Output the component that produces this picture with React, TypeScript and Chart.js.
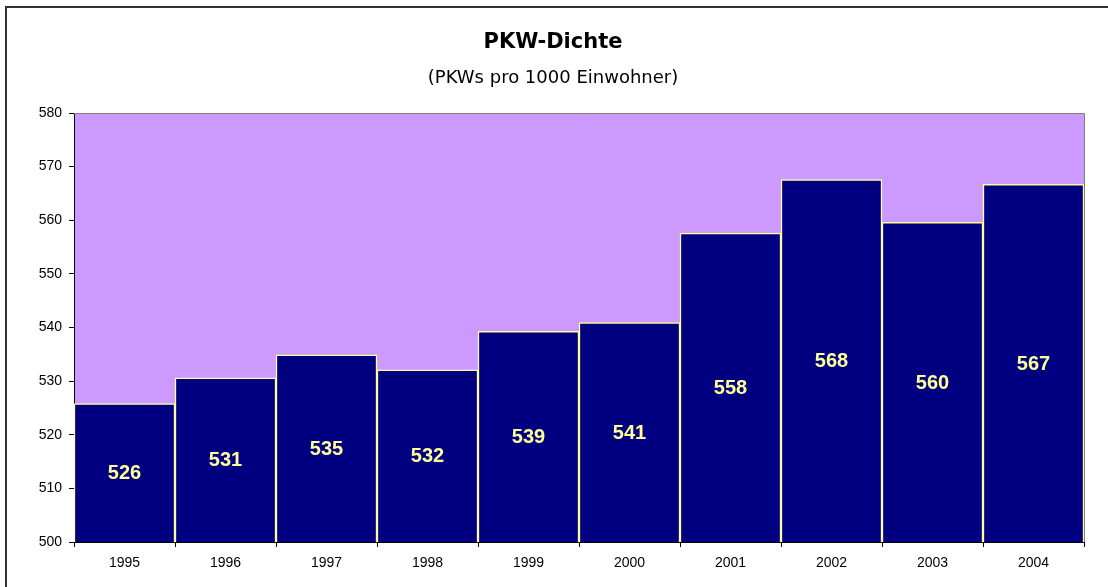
import React, { useEffect, useRef } from "react";
import { Chart, registerables } from "chart.js";

Chart.register(...registerables);

const years = ["1995", "1996", "1997", "1998", "1999", "2000", "2001", "2002", "2003", "2004"];
const density = [525.8, 530.6, 534.9, 532.1, 539.3, 540.9, 557.6, 567.6, 559.6, 566.7];
const yTicks = [500, 510, 520, 530, 540, 550, 560, 570, 580];
const titleText = "PKW-Dichte";
const subtitleText = "(PKWs pro 1000 Einwohner)";

const FONT = "'Liberation Sans', Arial, sans-serif";

const framePlugin = {
  id: "frame",
  beforeDraw(chart: any) {
    const { ctx, chartArea } = chart;
    ctx.save();
    ctx.fillStyle = "#ffffff";
    ctx.fillRect(0, 0, chart.width, chart.height);
    ctx.fillStyle = "#CC99FF";
    ctx.fillRect(chartArea.left, chartArea.top, chartArea.right - chartArea.left, chartArea.bottom - chartArea.top);
    ctx.strokeStyle = "#333333";
    ctx.lineWidth = 2;
    ctx.beginPath();
    ctx.moveTo(6, chart.height + 5);
    ctx.lineTo(6, 7);
    ctx.lineTo(chart.width + 5, 7);
    ctx.stroke();
    ctx.fillStyle = "#000000";
    ctx.textAlign = "center";
    ctx.textBaseline = "middle";
    const cx = 553;
    ctx.font = "bold 21px 'Comic Sans MS', 'DejaVu Sans', sans-serif";
    ctx.fillText(titleText, cx, 43);
    ctx.font = "18px 'Comic Sans MS', 'DejaVu Sans', sans-serif";
    ctx.fillText(subtitleText, cx, 78);
    ctx.restore();
  },
  afterDraw(chart: any) {
    const { ctx, chartArea } = chart;
    ctx.save();
    ctx.strokeStyle = "#808080";
    ctx.lineWidth = 1;
    ctx.beginPath();
    ctx.moveTo(chartArea.left, chartArea.top + 0.5);
    ctx.lineTo(chartArea.right + 0.5, chartArea.top + 0.5);
    ctx.lineTo(chartArea.right + 0.5, chartArea.bottom);
    ctx.stroke();
    const meta = chart.getDatasetMeta(0);
    const yScale = chart.scales.y;
    ctx.fillStyle = "#FFFF99";
    ctx.font = "bold 20px " + FONT;
    ctx.textAlign = "center";
    ctx.textBaseline = "middle";
    const values = chart.data.datasets[0].data as number[];
    meta.data.forEach((bar: any, i: number) => {
      const v = values[i];
      const top = yScale.getPixelForValue(v);
      const base = yScale.getPixelForValue(500);
      ctx.fillText(String(Math.round(v)), bar.x, (top + base) / 2 + 1);
    });
    ctx.restore();
  },
};

export default function App() {
  const ref = useRef<HTMLCanvasElement | null>(null);
  useEffect(() => {
    if (!ref.current) return;
    const chart = new Chart(ref.current, {
      type: "bar",
      data: {
        labels: years,
        datasets: [
          {
            data: density,
            backgroundColor: "#000080",
            borderColor: "#FFFF99",
            borderWidth: 1.5,
            barPercentage: 1,
            categoryPercentage: 1,
          },
        ],
      },
      options: {
        animation: false,
        responsive: false,
        maintainAspectRatio: false,
        layout: { padding: { left: 0, top: 113, right: 24, bottom: 0 } },
        plugins: { legend: { display: false }, tooltip: { enabled: false }, title: { display: false } },
        scales: {
          x: {
            offset: true,
            grid: { display: true, drawOnChartArea: false, offset: true, tickLength: 5, color: "#000000" },
            border: { color: "#000000", width: 1 },
            ticks: { color: "#000000", font: { family: FONT, size: 14 }, padding: 8 },
            afterFit(scale: any) {
              scale.height = 45;
            },
          },
          y: {
            min: 500,
            max: 580,
            afterBuildTicks(scale: any) {
              scale.ticks = yTicks.map((v) => ({ value: v }));
            },
            grid: { display: true, drawOnChartArea: false, tickLength: 5, color: "#000000" },
            border: { color: "#000000", width: 1 },
            ticks: { color: "#000000", font: { family: FONT, size: 14 }, padding: 7 },
            afterFit(scale: any) {
              scale.width = 74;
            },
          },
        },
      },
      plugins: [framePlugin],
    });
    return () => chart.destroy();
  }, []);
  return (
    <div style={{ position: "fixed", left: 0, top: 0, width: 1108, height: 587 }}>
      <canvas ref={ref} width={1108} height={587} style={{ display: "block" }} />
    </div>
  );
}
